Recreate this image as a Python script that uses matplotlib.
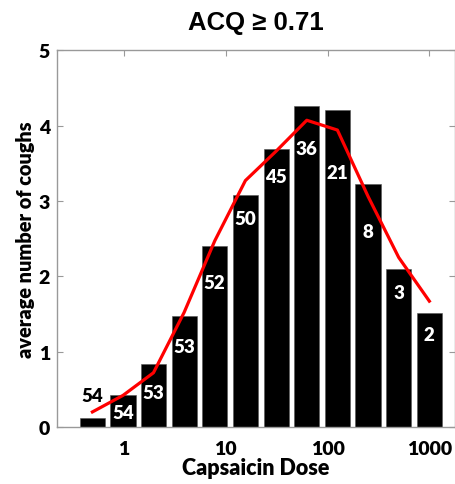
import numpy as np
import matplotlib.pyplot as plt

# capsaicin doses (doubling series) and mean cough counts
dose = [0.49, 0.98, 1.95, 3.9, 7.8, 15.6, 31.25, 62.5, 125, 250, 500, 1000]
coughs = [0.12, 0.42, 0.84, 1.47, 2.40, 3.08, 3.69, 4.26, 4.21, 3.22, 2.10, 1.51]
fit = [0.20, 0.42, 0.72, 1.52, 2.47, 3.27, 3.66, 4.07, 3.94, 3.06, 2.25, 1.67]
n_subjects = ['54', '54', '53', '53', '52', '50', '45', '36', '21', '8', '3', '2']

# where the counts sit on each bar
label_y = [0.42, 0.19, 0.46, 1.07, 1.92, 2.77, 3.33, 3.69, 3.38, 2.60, 1.79, 1.23]

plt.rcParams['font.family'] = ['Lato', 'DejaVu Sans']

fig = plt.figure(figsize=(4.56, 4.85), dpi=100)
ax = fig.add_axes([0.125, 0.1175, 0.873, 0.777])

# equal-width bars on the log axis
w = 0.82
x = np.array(dose)
left = x * 2 ** (-w / 2)
right = x * 2 ** (w / 2)
ax.bar(left, coughs, width=right - left, align='edge', color='black',
       edgecolor='#555555', linewidth=0.4, zorder=2)
ax.plot(dose, fit, color='red', lw=2.3, zorder=3)

for i in range(len(dose)):
    c = 'black' if label_y[i] > coughs[i] else 'white'
    ax.text(dose[i], label_y[i], n_subjects[i], ha='center', va='center',
            color=c, fontsize=13.5, fontweight='heavy', zorder=4)

ax.set_xscale('log')
ax.set_xlim(0.22, 1790)
ax.set_ylim(0, 5)
ax.set_xticks([1, 10, 100, 1000])
ax.set_xticklabels(['1', '10', '100', '1000'])
ax.minorticks_off()
ax.set_yticks([0, 1, 2, 3, 4, 5])

for s in ax.spines.values():
    s.set_color('#999999')
    s.set_linewidth(1.0)
ax.tick_params(direction='in', length=4, color='#999999', top=True, right=True,
               labelsize=14, pad=5)
ax.tick_params(axis='x', pad=9)
for lab in ax.get_xticklabels() + ax.get_yticklabels():
    lab.set_fontweight('heavy')

ax.set_xlabel('Capsaicin Dose', fontsize=15.5, fontweight='heavy', labelpad=0)
ax.set_ylabel('average number of coughs', fontsize=14.3, fontweight='heavy', labelpad=3)
fig.text(0.561, 0.952, 'ACQ \u2265 0.71', ha='center', va='center',
         fontsize=18.5, fontweight='bold', fontfamily=['Liberation Sans', 'DejaVu Sans'])

fig.savefig('out.png', dpi=100)
